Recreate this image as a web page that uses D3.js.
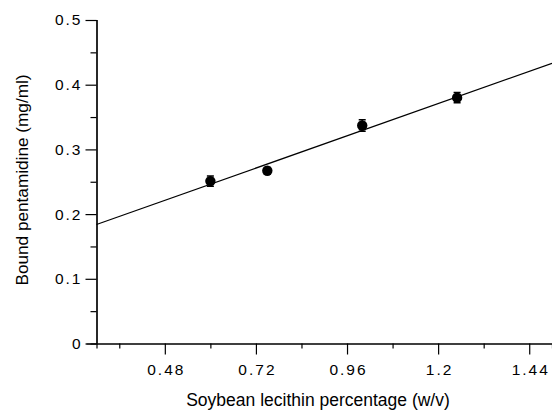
<!DOCTYPE html>
<html>
<head>
<meta charset="utf-8">
<script src="https://cdn.jsdelivr.net/npm/d3@7"></script>
<style>
  body { margin: 0; background: #fff; }
  text { font-family: "Liberation Sans", Arial, sans-serif; fill: #000; }
</style>
</head>
<body>
<svg></svg>
<script>
// measured points
var lecithin = [0.6, 0.75, 1.0, 1.25];
var bound = [0.251, 0.267, 0.337, 0.380];
var boundErr = [0.008, 0.005, 0.009, 0.008];

// fitted line end points
var fitX = [0.3, 1.5];
var fitY = [0.184, 0.433];

var xMajor = [0.48, 0.72, 0.96, 1.2, 1.44];
var xMinor = [0.36, 0.6, 0.84, 1.08, 1.32];
var yMajor = [0, 0.1, 0.2, 0.3, 0.4, 0.5];
var yMinor = [0.05, 0.15, 0.25, 0.35, 0.45];

var screen = { width: 552, height: 411 };
var svg = d3.select("svg")
            .attr("width", screen.width)
            .attr("height", screen.height);

var xScale = d3.scaleLinear()
               .domain([0.3, 1.5])
               .range([96.5, 552]);
var yScale = d3.scaleLinear()
               .domain([0, 0.5])
               .range([343.5, 20]);

// axes
var xAxis = d3.axisBottom(xScale)
              .tickValues(xMajor)
              .tickSize(11)
              .tickPadding(9)
              .tickFormat(function(d) { return String(d); });
var xAxisMinor = d3.axisBottom(xScale)
                   .tickValues(xMinor)
                   .tickSize(5)
                   .tickFormat("");
var yAxis = d3.axisLeft(yScale)
              .tickValues(yMajor)
              .tickSize(11)
              .tickPadding(3)
              .tickFormat(function(d) { return String(d); });
var yAxisMinor = d3.axisLeft(yScale)
                   .tickValues(yMinor)
                   .tickSize(6)
                   .tickFormat("");

var gx = svg.append("g")
   .attr("transform", "translate(0," + yScale(0) + ")")
   .call(xAxis);
svg.append("g")
   .attr("transform", "translate(0," + yScale(0) + ")")
   .call(xAxisMinor);
var gy = svg.append("g")
   .attr("transform", "translate(" + xScale(0.3) + ",0)")
   .call(yAxis);
svg.append("g")
   .attr("transform", "translate(" + xScale(0.3) + ",0)")
   .call(yAxisMinor);

svg.selectAll(".domain").attr("stroke", "#000").attr("stroke-width", 1.2);
svg.selectAll(".tick line").attr("stroke", "#000").attr("stroke-width", 1.2);
svg.selectAll(".tick text")
   .attr("font-family", "Liberation Sans, Arial, sans-serif")
   .attr("font-size", 15.5)
   .attr("letter-spacing", 2)
   .attr("fill", "#000");
gx.selectAll(".tick text").attr("dx", 1);

// remove the outer end ticks of the domain path
gx.select(".domain").attr("d", "M" + (xScale(0.3) - 10) + ",0.5H" + xScale(1.5));
gy.select(".domain").attr("d", "M0.5," + yScale(0) + "V" + yScale(0.5));

// fitted line
var line = d3.line()
             .x(function(d) { return xScale(d[0]); })
             .y(function(d) { return yScale(d[1]); });
svg.append("path")
   .datum(d3.zip(fitX, fitY))
   .attr("d", line)
   .attr("fill", "none")
   .attr("stroke", "#000")
   .attr("stroke-width", 1.2);

// error bars
var pts = d3.zip(lecithin, bound, boundErr);
svg.selectAll(".err")
   .data(pts)
   .enter()
   .append("path")
   .attr("class", "err")
   .attr("d", function(d) {
     var x = xScale(d[0]);
     var y0 = yScale(d[1] - d[2]);
     var y1 = yScale(d[1] + d[2]);
     return "M" + (x - 3.5) + "," + y1 + "H" + (x + 3.5) +
            "M" + x + "," + y1 + "V" + y0 +
            "M" + (x - 3.5) + "," + y0 + "H" + (x + 3.5);
   })
   .attr("stroke", "#000")
   .attr("stroke-width", 1.5)
   .attr("fill", "none");

// points
svg.selectAll(".pt")
   .data(pts)
   .enter()
   .append("circle")
   .attr("class", "pt")
   .attr("cx", function(d) { return xScale(d[0]); })
   .attr("cy", function(d) { return yScale(d[1]); })
   .attr("r", 5.2)
   .attr("fill", "#000");

// titles
svg.append("text")
   .attr("x", 318)
   .attr("y", 406)
   .attr("text-anchor", "middle")
   .attr("font-size", 17.5)
   .text("Soybean lecithin percentage (w/v)");

svg.append("text")
   .attr("transform", "translate(28,180) rotate(-90)")
   .attr("text-anchor", "middle")
   .attr("font-size", 17.2)
   .text("Bound pentamidine (mg/ml)");
</script>
</body>
</html>
